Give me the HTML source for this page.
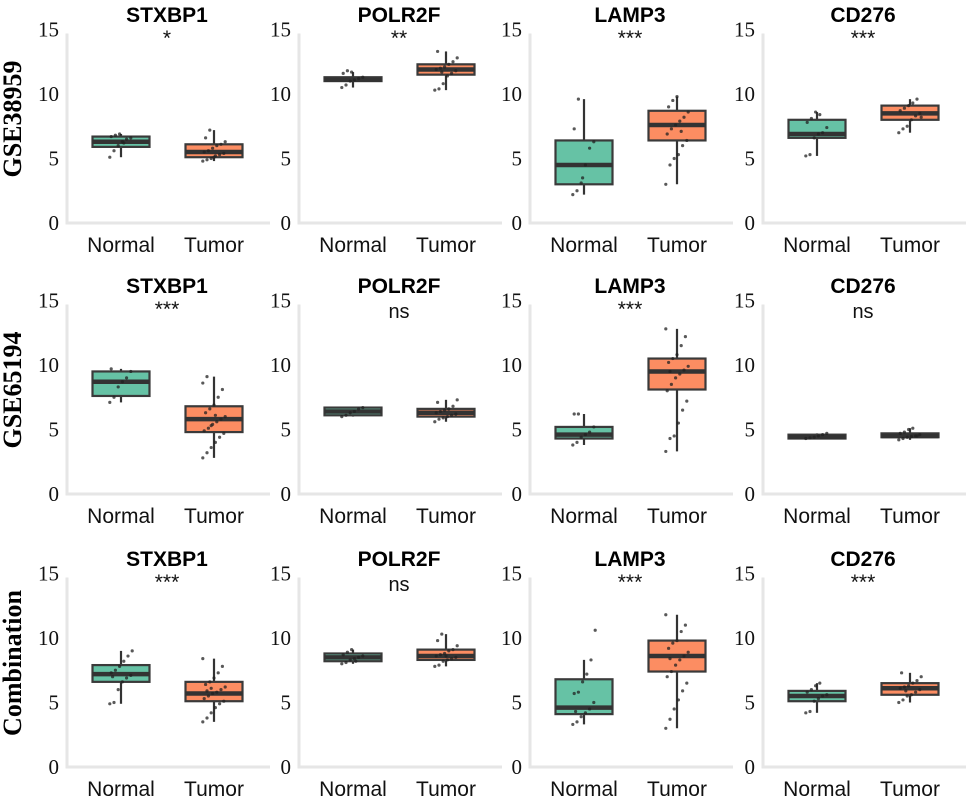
<!DOCTYPE html>
<html><head><meta charset="utf-8">
<style>
html,body{margin:0;padding:0;background:#fff;}
svg{display:block;}
</style></head>
<body>
<svg id="fig" width="969" height="801" viewBox="0 0 969 801" xmlns="http://www.w3.org/2000/svg"></svg>
<script>
const rowNames = ["GSE38959","GSE65194","Combination"];
const genes = ["STXBP1","POLR2F","LAMP3","CD276"];
const groups = ["Normal","Tumor"];
const yTicks = [0,5,10,15];
const sigLabels = [["*","**","***","***"],["***","ns","***","ns"],["***","ns","***","***"]];
// [whiskerLow, q1, median, q3, whiskerHigh]
const normalStats = [
 [5.1,5.9,6.3,6.7,6.9],[10.5,11.0,11.1,11.3,11.7],[2.2,3.0,4.5,6.4,9.6],[5.2,6.6,6.9,8.0,8.6],
 [7.1,7.6,8.7,9.5,9.7],[6.0,6.1,6.4,6.7,6.7],[3.8,4.3,4.6,5.2,6.2],[4.3,4.3,4.4,4.6,4.7],
 [4.9,6.6,7.2,7.9,9.0],[8.0,8.2,8.5,8.8,9.1],[3.3,4.1,4.6,6.8,8.3],[4.2,5.1,5.5,5.9,6.5]
];
const tumorStats = [
 [4.8,5.1,5.5,6.1,7.2],[10.3,11.5,11.9,12.3,13.3],[3.0,6.4,7.6,8.7,9.8],[7.0,8.0,8.5,9.1,9.6],
 [2.8,4.8,5.8,6.8,9.1],[5.6,6.0,6.3,6.6,7.3],[3.3,8.1,9.5,10.5,12.8],[4.2,4.4,4.5,4.7,5.1],
 [3.5,5.1,5.7,6.6,8.4],[7.8,8.3,8.6,9.1,10.3],[3.0,7.4,8.6,9.8,11.8],[5.0,5.6,6.1,6.5,7.3]
];
const normalPts = [
 [5.1,5.6,6.0,6.3,6.5,6.6,6.7,6.8,6.9,6.2],
 [10.5,10.7,11.0,11.1,11.2,11.3,11.6,11.8,11.7],
 [2.2,2.5,3.1,4.5,5.8,6.3,7.3,9.6,3.5],
 [5.2,5.3,6.6,6.9,7.0,7.4,7.8,8.1,8.6,8.4],
 [7.1,7.5,8.3,8.7,9.0,9.5,9.7],
 [6.0,6.1,6.3,6.4,6.6,6.7],
 [3.8,4.0,4.4,4.6,4.8,5.2,6.2,6.2],
 [4.3,4.35,4.4,4.5,4.6,4.7],
 [4.9,5.0,6.0,6.6,6.9,7.1,7.3,7.5,7.8,8.2,8.6,9.0,7.0],
 [8.0,8.1,8.3,8.4,8.5,8.6,8.7,8.9,9.1,8.2],
 [3.3,3.5,3.9,4.2,4.5,5.0,5.7,5.8,6.6,7.2,8.3,10.6,4.3],
 [4.2,4.3,5.1,5.3,5.5,5.6,5.8,6.0,6.3,6.5]
];
const tumorPts = [
 [4.8,4.9,5.0,5.2,5.3,5.4,5.5,5.6,5.8,6.0,6.1,6.3,6.6,7.2,5.1],
 [10.3,10.4,10.8,11.4,11.6,11.8,11.9,12.0,12.1,12.3,12.5,12.8,13.3,11.7],
 [3.0,4.5,5.0,5.3,6.0,6.4,6.9,7.3,7.6,7.9,8.2,8.6,9.0,9.5,9.8,7.1],
 [7.0,7.3,7.5,8.0,8.3,8.5,8.7,8.9,9.1,9.3,9.6,8.2],
 [2.8,3.2,3.6,4.0,4.4,4.7,4.9,5.1,5.4,5.6,5.8,6.0,6.3,6.6,6.9,7.5,8.1,8.6,9.1,5.3,6.1],
 [5.6,5.8,5.9,6.0,6.1,6.2,6.3,6.4,6.5,6.6,6.8,7.3,7.1],
 [3.3,4.3,4.5,5.5,6.5,7.2,8.0,8.5,9.0,9.3,9.6,9.9,10.2,10.5,10.8,11.5,12.2,12.8,9.5],
 [4.2,4.3,4.4,4.45,4.5,4.6,4.7,4.8,5.0,5.1,4.5],
 [3.5,3.8,4.2,4.6,4.9,5.1,5.3,5.5,5.7,5.8,6.0,6.2,6.4,6.6,6.9,7.3,7.8,8.4,5.9,6.1],
 [7.8,7.9,8.2,8.3,8.4,8.5,8.6,8.7,8.8,9.0,9.1,9.4,9.8,10.3,8.6],
 [3.0,3.7,4.5,5.2,5.9,6.5,7.0,7.4,7.9,8.3,8.6,8.9,9.2,9.6,9.8,10.5,11.0,11.8,8.4],
 [5.0,5.2,5.5,5.6,5.8,6.0,6.1,6.2,6.3,6.5,6.7,7.0,7.3,5.9]
];
const colors = ["#66c2a5","#fc8d62"];

const NS = "http://www.w3.org/2000/svg";
const svg = document.getElementById("fig");
function mk(tag, attrs, parent, text){
  const e = document.createElementNS(NS, tag);
  for (const k in attrs) e.setAttribute(k, attrs[k]);
  if (text !== undefined) e.textContent = text;
  (parent||svg).appendChild(e);
  return e;
}
const axisX0 = [67,299,530,763];
const rowY0 = [223,494,767];
const scale = 12.9;
const catOff = [54,147];
const boxW = 57;

rowNames.forEach((rn, r) => {
  const cy = rowY0[r] - 104;
  const t = mk("text",{x:0,y:0,transform:`translate(21,${cy}) rotate(-90)`,"text-anchor":"middle","font-family":"Liberation Serif, serif","font-weight":"bold","font-size":"26"},svg,rn);
  
  
});

for (let r=0;r<3;r++){
  for (let c=0;c<4;c++){
    const idx = r*4+c;
    const ax = axisX0[c], y0 = rowY0[r];
    const yS = v => y0 - v*scale;
    const g = mk("g",{});
    
    
    const va = mk("line",{x1:ax,y1:yS(15)+4,x2:ax,y2:y0,stroke:"#e6e6e6","stroke-width":3},g);
    
    
    const ha = mk("line",{x1:ax-1.5,y1:y0,x2:ax+203,y2:y0,stroke:"#e6e6e6","stroke-width":3},g);
    
    
    yTicks.forEach(v => {
      const tl = mk("text",{x:ax-8,y:yS(v)+7,"text-anchor":"end","font-family":"Liberation Serif, serif","font-size":"21",fill:"#111"},g,String(v));
      
      
    });
    const tt = mk("text",{x:ax+100,y:y0-201,"text-anchor":"middle","font-family":"Liberation Sans, sans-serif","font-weight":"bold","font-size":"21",fill:"#000"},g,genes[c]);
    
    
    const sl = sigLabels[r][c];
    const st = mk("text",{x:ax+100,y: sl==="ns" ? y0-176 : y0-178,"text-anchor":"middle","font-family":"Liberation Sans, sans-serif","font-size": sl==="ns"?"20":"21",fill:"#111"},g,sl);
    
    
    groups.forEach((gn, gi) => {
      const cx = ax + catOff[gi];
      const s = (gi===0?normalStats:tumorStats)[idx];
      const pts = (gi===0?normalPts:tumorPts)[idx];
      const xl = mk("text",{x:cx,y:y0+29,"text-anchor":"middle","font-family":"Liberation Sans, sans-serif","font-size":"21",fill:"#111"},g,gn);
      
      
      const wk = mk("line",{x1:cx,y1:yS(s[0]),x2:cx,y2:yS(s[4]),stroke:"#333","stroke-width":2.2},g);
      
      
      const bx = mk("rect",{x:cx-boxW/2,y:yS(s[3]),width:boxW,height:Math.max(1,yS(s[1])-yS(s[3])),fill:colors[gi],stroke:"#3a3a3a","stroke-width":2.2},g);
      
      
      const md = mk("line",{x1:cx-boxW/2,y1:yS(s[2]),x2:cx+boxW/2,y2:yS(s[2]),stroke:"#333","stroke-width":4.5},g);
      
      
      pts.forEach((v, k) => {
        const jx = ((k*37)%17 - 8) * 1.4;
        const p = mk("circle",{cx:cx+jx,cy:yS(v),r:1.6,fill:"#222","fill-opacity":0.75},g);
        
        
      });
    });
  }
}
</script>
</body></html>
